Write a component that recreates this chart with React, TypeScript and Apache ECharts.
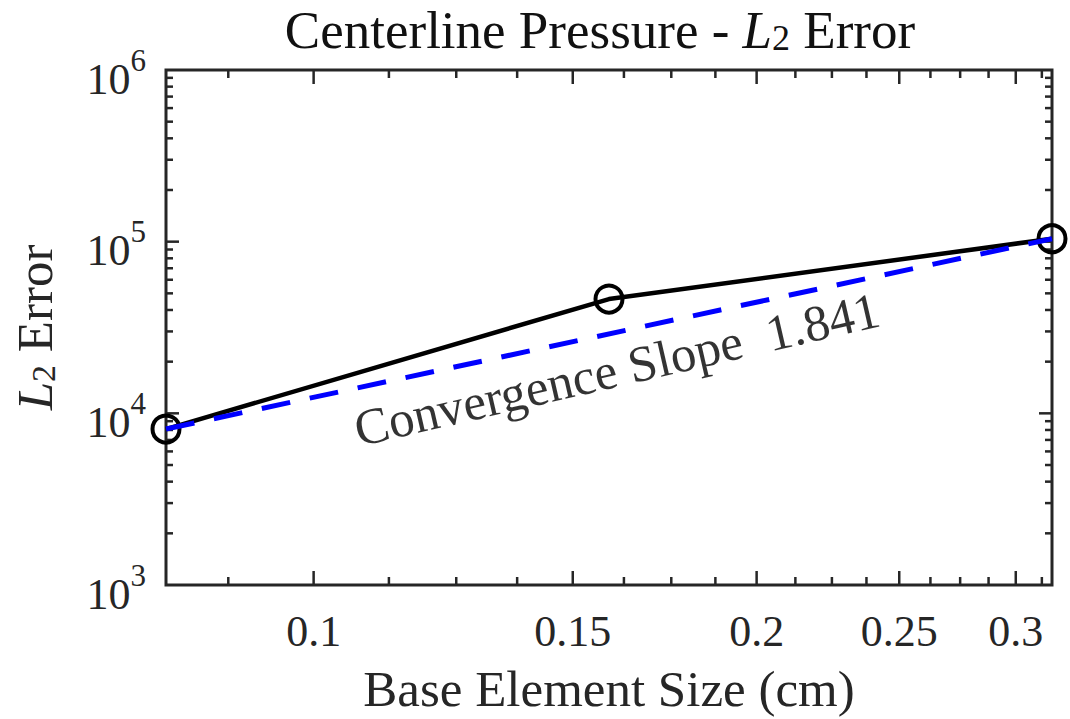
import React, { useEffect, useRef } from 'react';
import * as echarts from 'echarts';

// ---- data ----
const sizes = [0.079375, 0.15875, 0.3175];
const errors = [8100, 46300, 104000];
const fitSizes = [0.079375, 0.3175];
const fitErrors = [8100, 104000];
const xMajorTicks = [0.1, 0.15, 0.2, 0.25, 0.3];
const xMajorLabels = ['0.1', '0.15', '0.2', '0.25', '0.3'];
const xMinorTicks = [0.0875, 0.1125, 0.125, 0.1375, 0.1625, 0.175, 0.1875, 0.2125, 0.225, 0.2375, 0.2625, 0.275, 0.2875, 0.3125];
const yMajorTicks = [1e4, 1e5];
const yMinorTicks = [
  2000, 3000, 4000, 5000, 6000, 7000, 8000, 9000,
  20000, 30000, 40000, 50000, 60000, 70000, 80000, 90000,
  200000, 300000, 400000, 500000, 600000, 700000, 800000, 900000,
];
const annotationX = [0.1607];
const annotationY = [18000];
const annotationText = ['Convergence Slope  1.841'];

const X_MIN = 0.079375;
const X_MAX = 0.3175;
const Y_MIN = 1000;
const Y_MAX = 1e6;

const FONT = 'Liberation Serif';
const AXIS = '#262626';

export default function App() {
  const ref = useRef<HTMLDivElement>(null);
  useEffect(() => {
    if (!ref.current) return;
    const chart = echarts.init(ref.current, null, { renderer: 'svg' });

    const xTickData = [
      ...xMajorTicks.map((v) => [v, Y_MIN]),
      ...xMinorTicks.map((v) => [v, Y_MIN]),
    ];
    const yTickData = [
      ...yMajorTicks.map((v) => [X_MIN, v]),
      ...yMinorTicks.map((v) => [X_MIN, v]),
    ];

    const option: any = {
      animation: false,
      backgroundColor: '#ffffff',
      title: {
        text: 'Centerline Pressure - {it|L}{sub|2} Error',
        left: 600,
        top: 3,
        textAlign: 'center',
        padding: 0,
        textStyle: {
          fontFamily: FONT,
          fontSize: 53,
          fontWeight: 'normal',
          color: '#111',
          rich: {
            it: { fontFamily: FONT, fontSize: 53, fontStyle: 'italic', color: '#111' },
            sub: { fontFamily: FONT, fontSize: 36, color: '#111', padding: [17, 0, 0, 0] },
          },
        },
      },
      grid: {
        left: 166,
        right: 18,
        top: 70,
        bottom: 133,
        show: true,
        borderColor: AXIS,
        borderWidth: 3,
        backgroundColor: 'transparent',
      },
      xAxis: {
        type: 'log',
        logBase: 10,
        min: X_MIN,
        max: X_MAX,
        axisLine: { show: false },
        axisTick: { show: false },
        axisLabel: { show: false },
        splitLine: { show: false },
        name: 'Base Element Size (cm)',
        nameLocation: 'middle',
        nameGap: 78,
        nameTextStyle: { fontFamily: FONT, fontSize: 51, color: AXIS },
      },
      yAxis: {
        type: 'log',
        logBase: 10,
        min: Y_MIN,
        max: Y_MAX,
        splitNumber: 3,
        axisLine: { show: false },
        axisTick: { show: false },
        splitLine: { show: false },
        axisLabel: {
          margin: 20,
          formatter: (v: number) => `{b|10}{s|${Math.round(Math.log10(v))}}`,
          rich: {
            b: { fontFamily: FONT, fontSize: 44, color: AXIS, padding: [18, 0, 0, 0] },
            s: { fontFamily: FONT, fontSize: 31, color: AXIS, padding: [0, 0, 20, 0] },
          },
        },
        name: '{it|L}{sub|2} Error',
        nameLocation: 'middle',
        nameGap: 106,
        nameTextStyle: {
          fontFamily: FONT,
          fontSize: 51,
          color: AXIS,
          rich: {
            it: { fontFamily: FONT, fontSize: 51, fontStyle: 'italic', color: AXIS },
            sub: { fontFamily: FONT, fontSize: 34, color: AXIS, padding: [17, 0, 0, 0] },
          },
        },
      },
      series: [
        {
          type: 'custom',
          silent: true,
          clip: false,
          z: 5,
          data: xTickData,
          renderItem: (params: any, api: any) => {
            const cs = params.coordSys;
            const v = api.value(0);
            const major = params.dataIndex < xMajorTicks.length;
            const px = api.coord([v, Y_MIN])[0];
            const top = cs.y;
            const bottom = cs.y + cs.height;
            const len = major ? 14 : 8;
            const children: any[] = [
              { type: 'line', shape: { x1: px, y1: bottom, x2: px, y2: bottom - len }, style: { stroke: AXIS, lineWidth: 2.5 } },
              { type: 'line', shape: { x1: px, y1: top, x2: px, y2: top + len }, style: { stroke: AXIS, lineWidth: 2.5 } },
            ];
            if (major) {
              children.push({
                type: 'text',
                style: {
                  text: xMajorLabels[params.dataIndex],
                  x: px,
                  y: bottom + 46,
                  align: 'center',
                  verticalAlign: 'middle',
                  fill: AXIS,
                  fontSize: 44,
                  fontFamily: FONT,
                },
              });
            }
            return { type: 'group', children };
          },
        },
        {
          type: 'custom',
          silent: true,
          clip: false,
          z: 5,
          data: yTickData,
          renderItem: (params: any, api: any) => {
            const cs = params.coordSys;
            const v = api.value(1);
            const major = params.dataIndex < yMajorTicks.length;
            const py = api.coord([X_MIN, v])[1];
            const left = cs.x;
            const right = cs.x + cs.width;
            const len = major ? 13 : 7;
            return {
              type: 'group',
              children: [
                { type: 'line', shape: { x1: left, y1: py, x2: left + len, y2: py }, style: { stroke: AXIS, lineWidth: 2.5 } },
                { type: 'line', shape: { x1: right, y1: py, x2: right - len, y2: py }, style: { stroke: AXIS, lineWidth: 2.5 } },
              ],
            };
          },
        },
        {
          type: 'line',
          name: 'L2 Error',
          data: sizes.map((x, i) => [x, errors[i]]),
          clip: false,
          symbol: 'circle',
          symbolSize: 27,
          lineStyle: { color: '#000', width: 4.5 },
          itemStyle: { color: 'rgba(0,0,0,0)', borderColor: '#000', borderWidth: 4 },
          z: 10,
        },
        {
          type: 'line',
          name: 'Fit',
          data: fitSizes.map((x, i) => [x, fitErrors[i]]),
          clip: false,
          symbol: 'none',
          lineStyle: { color: '#0000ff', width: 5, type: [29, 20] },
          z: 11,
        },
        {
          type: 'scatter',
          data: annotationX.map((x, i) => [x, annotationY[i]]),
          symbol: 'circle',
          symbolSize: 1,
          silent: true,
          itemStyle: { color: 'rgba(0,0,0,0)' },
          label: {
            show: true,
            position: 'inside',
            rotate: 13,
            formatter: (p: any) => annotationText[p.dataIndex],
            fontFamily: FONT,
            fontSize: 51,
            color: '#000',
          },
          z: 12,
        },
      ],
    };
    chart.setOption(option);
    return () => chart.dispose();
  }, []);

  return (
    <div
      ref={ref}
      style={{ position: 'fixed', left: 0, top: 0, width: 1070, height: 719, background: '#fff' }}
    />
  );
}
